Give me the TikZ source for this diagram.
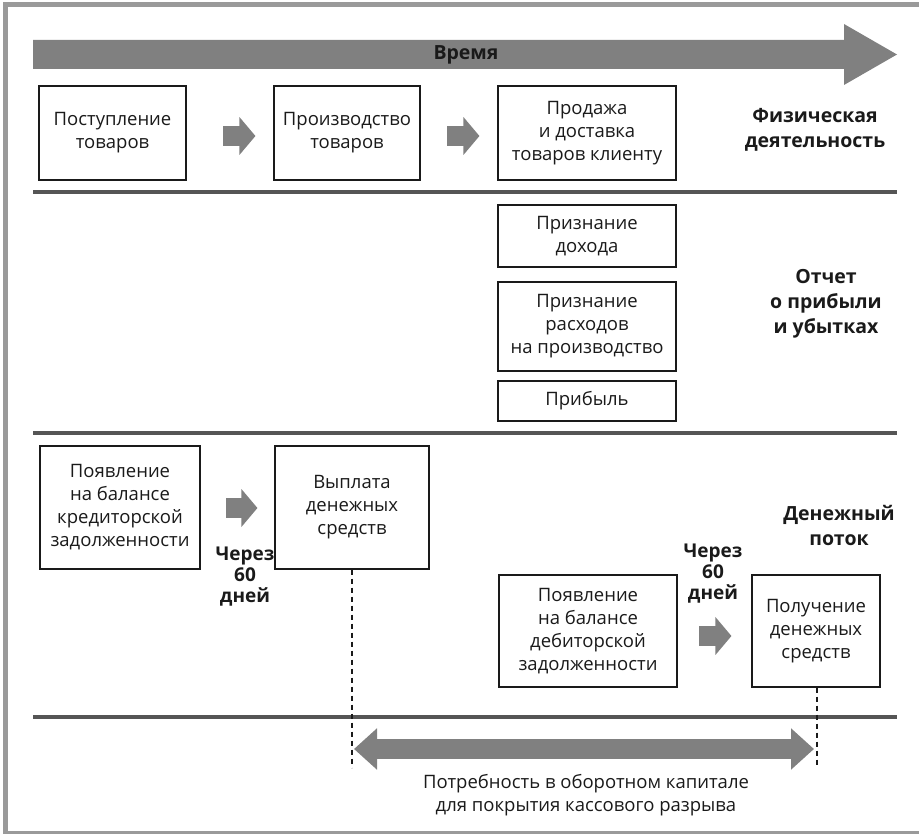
\documentclass[tikz,border=0pt]{standalone}
\usepackage{fontspec}
\setmainfont{Open Sans}
\usetikzlibrary{arrows.meta,calc}
\definecolor{arrowgray}{HTML}{808080}
\definecolor{rulegray}{HTML}{555555}
\definecolor{framegray}{HTML}{9A9A9A}
\definecolor{inkc}{HTML}{1A1A1A}
\begin{document}
\begin{tikzpicture}[x=1pt,y=-1pt,
  box/.style={draw=inkc, line width=1.1pt, fill=white, align=center, inner sep=2pt,
    text=inkc, font=\fontsize{18.5}{23}\selectfont},
  lbl/.style={align=center, text=inkc, font=\fontsize{19.5}{25}\selectfont\bfseries},
  rulel/.style={draw=rulegray, line width=4pt},
  dashl/.style={draw=inkc, line width=1.1pt, dash pattern=on 5pt off 4pt},
  blockarr/.style={draw=arrowgray, line width=20pt, -{Triangle[length=16pt,width=37pt]}},
  gaparr/.style={draw=arrowgray, line width=20pt, {Triangle[length=23pt,width=40pt]}-{Triangle[length=23pt,width=40pt]}}
]
\useasboundingbox (0,0) rectangle (919,834);
\draw[framegray, line width=5pt] (925,5) -- (5,5) -- (5,833) -- (925,833);

% time arrow
\fill[arrowgray] (33,40) -- (844,40) -- (844,24) -- (897,54.5) -- (844,85) -- (844,69) -- (33,69) -- cycle;
\node[lbl] (time) at (466,54.5) {Время};

% rules
\coordinate (r1a) at (33,192); \coordinate (r1b) at (897,192);
\coordinate (r2a) at (33,433); \coordinate (r2b) at (897,433);
\coordinate (r3a) at (33,717); \coordinate (r3b) at (897,717);
\draw[rulel] (r1a) -- (r1b);
\draw[rulel] (r2a) -- (r2b);
\draw[rulel] (r3a) -- (r3b);

% physical activity
\node[box, minimum width=147pt, minimum height=94pt] (b1) at (112.5,133) {Поступление\\товаров};
\node[box, minimum width=146pt, minimum height=94pt] (b2) at (347,133) {Производство\\товаров};
\node[box, minimum width=178pt, minimum height=94pt] (b3) at (587,133) {Продажа\\и доставка\\товаров клиенту};
\draw[blockarr] ($(b2.west)+(-50,3)$) -- ($(b2.west)+(-18,3)$);
\draw[blockarr] ($(b3.west)+(-50,3)$) -- ($(b3.west)+(-18,3)$);
\node[lbl] (phys) at (815,129.5) {Физическая\\деятельность};

% P&L
\node[box, minimum width=178pt, minimum height=62pt] (inc) at (587,236) {Признание\\дохода};
\node[box, minimum width=178pt, minimum height=89pt] (exp) at (587,326.5) {Признание\\расходов\\на производство};
\node[box, minimum width=178pt, minimum height=40pt] (prof) at (587,401) {Прибыль};
\node[lbl] (pl) at (826,304) {Отчет\\о прибыли\\и убытках};

% cash flow
\node[box, minimum width=160pt, minimum height=123pt] (pay) at (120,507.5) {Появление\\на балансе\\кредиторской\\задолженности};
\node[box, minimum width=154pt, minimum height=123pt] (out) at (352,507.5) {Выплата\\денежных\\средств};
\node[box, minimum width=178pt, minimum height=112pt] (rec) at (588,631) {Появление\\на балансе\\дебиторской\\задолженности};
\node[box, minimum width=128pt, minimum height=112pt] (in) at (816,631) {Получение\\денежных\\средств};
\draw[blockarr] ($(out.west)+(-48,0.5)$) -- ($(out.west)+(-17,0.5)$);
\draw[blockarr] ($(in.west)+(-52,5)$) -- ($(in.west)+(-20,5)$);
\node[lbl, font=\fontsize{19}{21}\selectfont\bfseries] (d1) at (245,577) {Через\\60\\дней};
\node[lbl, font=\fontsize{19}{21}\selectfont\bfseries] (d2) at (713,574) {Через\\60\\дней};
\node[lbl] (cf) at (839,525) {Денежный\\поток};

% gap
\coordinate (outd) at ($(out.south)+(0,198)$);
\coordinate (ind) at ($(in.south)+(1,80)$);
\draw[dashl] (out.south) -- (outd);
\draw[dashl] ($(in.south)+(1,0)$) -- (ind);
\coordinate (gl) at ($(out.south |- 0,749)+(2,0)$);
\coordinate (gr) at ($(in.south |- 0,749)+(-2,0)$);
\draw[gaparr] (gl) -- (gr);
\node[align=center, text=inkc, font=\fontsize{18.5}{23}\selectfont] (need) at (586,795) {Потребность в оборотном капитале\\для покрытия кассового разрыва};
\end{tikzpicture}
\end{document}
